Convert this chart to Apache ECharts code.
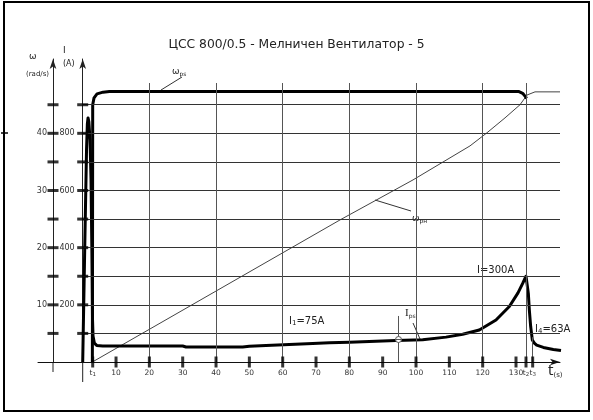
<!DOCTYPE html>
<html><head><meta charset="utf-8">
<script src="https://cdn.jsdelivr.net/npm/echarts@6/dist/echarts.min.js"></script>
<style>html,body{margin:0;padding:0;background:#fff}#c{width:593px;height:420px}</style>
</head><body><div id="c"></div>
<script>
const titleText = 'ЦСС 800/0.5 - Мелничен Вентилатор - 5';

// Current I (A) vs time t (s)
const iTime   = [0, 0.6, 1.15, 1.4, 1.6, 1.85, 2.2, 2.5, 2.75, 2.95, 3.1, 3.5, 4.2, 6, 30, 31, 48, 50, 55, 62, 69, 74, 80, 86, 94, 102, 109, 114, 119, 124, 128, 130.6, 132, 133, 133.7, 134, 134.4, 134.9, 135.5, 136.2, 138.2, 141.2, 143.5];
const iValues = [0, 392, 742, 833, 854, 840, 777, 637, 392, 147, 91, 66, 58, 56, 56, 52.5, 52.5, 55, 58, 61, 65, 67, 69, 72, 75, 78, 87, 97, 112, 147, 194, 242, 275, 300, 240, 182, 124, 77, 66, 59, 51, 44, 40];

// Angular speed ω_рs (rad/s)
const wrsTime   = [2.9, 2.95, 3.0, 3.4, 4.3, 6.1, 8, 130.9, 132, 132.7, 133.2];
const wrsValues = [0, 20, 45, 46.2, 46.9, 47.2, 47.3, 47.3, 47.0, 46.5, 46.1];

// Angular speed ω_рн (rad/s)
const wrnTime   = [2.9, 77.2, 99.1, 116.2, 121.3, 126.7, 131.2, 133.3, 135.7, 143.2];
const wrnValues = [0, 24.85, 31.85, 37.8, 40.1, 42.7, 45.0, 46.7, 47.25, 47.25];

// Axis ticks / labels
const xTickValues = [3, 10, 20, 30, 40, 50, 60, 70, 80, 90, 100, 110, 120, 130, 133, 135];
const xTickLabels = ['t1', '10', '20', '30', '40', '50', '60', '70', '80', '90', '100', '110', '120', '130', 't2', 't3'];
const iTickValues = [100, 200, 300, 400, 500, 600, 700, 800, 900];
const iLabelValues = [200, 400, 600, 800];
const wTickValues = [5, 10, 15, 20, 25, 30, 35, 40, 45];
const wLabelValues = [10, 20, 30, 40];
const vGridTimes = [20, 40, 60, 80, 100, 120, 133];
const hGridValues = [100, 200, 300, 400, 500, 600, 700, 800, 900];
const markerTimes = [94.6, 135];
const markerTops = [161, 87];

const XMIN = -13.41, XMAX = 143.2, IMAX = 1060, WMAX = 53;
const GRID_LEFT = 38, W_AXIS_SHIFT = 15;
const pxPerSec = 522 / (XMAX - XMIN);
const wAxisT = XMIN + W_AXIS_SHIFT / pxPerSec;
const iAxisShift = -XMIN * pxPerSec;
const gridTopI = 976, gridRightT = 143.2;

const FONT = 'DejaVu Sans';
const chart = echarts.init(document.getElementById('c'), null, {renderer: 'canvas'});

const hLines = hGridValues.map(v => [{coord: [0, v]}, {coord: [gridRightT, v]}]);
const vLines = vGridTimes.map(t => [{coord: [t, 0]}, {coord: [t, gridTopI]}]);
const mLines = markerTimes.map((t, k) => [{coord: [t, 0]}, {coord: [t, markerTops[k]]}]);

function sub(main, s) { return '{m|' + main + '}{s|' + s + '}'; }

chart.setOption({
  animation: false,
  backgroundColor: '#fff',
  grid: {left: GRID_LEFT, right: 593 - 560, top: 59, bottom: 420 - 362, containLabel: false},
  xAxis: {
    type: 'value', min: XMIN, max: XMAX,
    axisLine: {show: true, onZero: true, symbol: ['none', 'arrow'], symbolSize: [5, 10], lineStyle: {color: '#111', width: 1}},
    axisTick: {show: false}, splitLine: {show: false},
    axisLabel: {
      customValues: xTickValues, margin: 7, fontSize: 7.5, fontFamily: FONT, color: '#333',
      formatter: v => {
        const k = xTickValues.indexOf(v);
        const l = k >= 0 ? xTickLabels[k] : '';
        if (l[0] === 't') return '{m|t}{s|' + l.slice(1) + '}';
        return l;
      },
      rich: {m: {fontSize: 7.5, fontFamily: FONT, color: '#333'}, s: {fontSize: 5.5, fontFamily: FONT, color: '#333', verticalAlign: 'bottom', padding: [3, 0, 0, 0]}}
    }
  },
  yAxis: [{
    type: 'value', min: 0, max: IMAX, position: 'left', offset: -iAxisShift,
    axisLine: {show: true, onZero: false, symbol: ['none', 'arrow'], symbolSize: [5, 10], lineStyle: {color: '#222', width: 1}},
    axisTick: {show: false}, splitLine: {show: false},
    axisLabel: {customValues: iLabelValues, margin: 8, fontSize: 8, fontFamily: FONT, color: '#333'}
  }, {
    type: 'value', min: 0, max: WMAX, position: 'left', offset: -W_AXIS_SHIFT,
    axisLine: {show: true, onZero: false, symbol: ['none', 'arrow'], symbolSize: [5, 10], lineStyle: {color: '#222', width: 1}},
    axisTick: {show: false}, splitLine: {show: false},
    axisLabel: {customValues: wLabelValues, margin: 6, fontSize: 8, fontFamily: FONT, color: '#333'}
  }],
  series: [
    {
      type: 'line', name: 'grid', data: [[0, 0]], symbol: 'none', lineStyle: {opacity: 0}, z: 1, silent: true,
      markLine: {silent: true, symbol: ['none', 'none'], label: {show: false}, animation: false,
        lineStyle: {color: '#333', width: 1, type: 'solid'},
        data: hLines}
    },
    {
      type: 'line', name: 'vgrid', data: [[0, 0]], symbol: 'none', lineStyle: {opacity: 0}, z: 1, silent: true,
      markLine: {silent: true, symbol: ['none', 'none'], label: {show: false}, animation: false,
        lineStyle: {color: '#555', width: 1, type: 'solid'},
        data: vLines.concat(mLines)}
    },
    {
      type: 'line', name: 'ωрн', yAxisIndex: 1, z: 3, symbol: 'none', clip: false,
      lineStyle: {color: '#444', width: 1},
      data: wrnTime.map((t, k) => [t, wrnValues[k]])
    },
    {
      type: 'line', name: 'ωрs', yAxisIndex: 1, z: 4, symbol: 'none', clip: false,
      lineStyle: {color: '#000', width: 3, join: 'round'},
      data: wrsTime.map((t, k) => [t, wrsValues[k]])
    },
    {
      type: 'line', name: 'I', yAxisIndex: 0, z: 4, symbol: 'none', clip: false,
      lineStyle: {color: '#000', width: 3, join: 'round'},
      data: iTime.map((t, k) => [t, iValues[k]])
    },
    {
      type: 'scatter', yAxisIndex: 0, z: 5, symbol: 'rect', symbolSize: [3, 11], silent: true,
      itemStyle: {color: '#000'},
      data: xTickValues.map(t => [t, 0])
    },
    {
      type: 'scatter', yAxisIndex: 0, z: 5, symbol: 'rect', symbolSize: [11, 3], silent: true,
      itemStyle: {color: '#000'},
      data: iTickValues.map(v => [0, v])
    },
    {
      type: 'scatter', yAxisIndex: 1, z: 5, symbol: 'rect', symbolSize: [11, 3], silent: true,
      itemStyle: {color: '#000'},
      data: wTickValues.map(v => [wAxisT, v])
    }
  ],
  graphic: [
    {type: 'rect', shape: {x: 4, y: 2, width: 585, height: 409}, style: {fill: 'none', stroke: '#000', lineWidth: 2}, z: 0},
    {type: 'line', shape: {x1: 1, y1: 133, x2: 8, y2: 133}, style: {stroke: '#000', lineWidth: 1.5}},
    {type: 'line', shape: {x1: 53, y1: 362, x2: 53, y2: 372}, style: {stroke: '#222', lineWidth: 1}},
    {type: 'line', shape: {x1: 82.7, y1: 362, x2: 82.7, y2: 382}, style: {stroke: '#222', lineWidth: 1}},
    {type: 'text', left: 'center', top: 39, style: {text: titleText, font: '12.3px "DejaVu Sans"', fill: '#222'}},
    {type: 'text', x: 29, y: 52, style: {text: 'ω', font: '9px "DejaVu Sans"', fill: '#222'}},
    {type: 'text', x: 26, y: 71, style: {text: '(rad/s)', font: '7px "DejaVu Sans"', fill: '#222'}},
    {type: 'text', x: 63, y: 46, style: {text: 'I', font: '9px "DejaVu Sans"', fill: '#222'}},
    {type: 'text', x: 63, y: 60, style: {text: '(A)', font: '8px "DejaVu Sans"', fill: '#222'}},
    {type: 'text', x: 172, y: 67, style: {text: sub('ω', 'рs'), rich: {m: {fontSize: 9, fontFamily: FONT, fill: '#222'}, s: {fontSize: 6, fontFamily: FONT, fill: '#222', padding: [4, 0, 0, 0]}}}},
    {type: 'line', shape: {x1: 182, y1: 77, x2: 161, y2: 90}, style: {stroke: '#333', lineWidth: 1}},
    {type: 'text', x: 412, y: 214, style: {text: sub('ω', 'рн'), rich: {m: {fontSize: 9, fontFamily: FONT, fill: '#222'}, s: {fontSize: 6, fontFamily: FONT, fill: '#222', padding: [4, 0, 0, 0]}}}},
    {type: 'line', shape: {x1: 375, y1: 200, x2: 411, y2: 211}, style: {stroke: '#333', lineWidth: 1}},
    {type: 'text', x: 289, y: 316, style: {text: sub('I', '1') + '{m|=75A}', rich: {m: {fontSize: 10, fontFamily: FONT, fill: '#222'}, s: {fontSize: 7, fontFamily: FONT, fill: '#222', padding: [4, 0, 0, 0]}}}},
    {type: 'text', x: 405, y: 308, style: {text: sub('I', 'рs'), rich: {m: {fontSize: 11, fontFamily: 'Liberation Serif', fill: '#222'}, s: {fontSize: 6, fontFamily: FONT, fill: '#222', padding: [5, 0, 0, 0]}}}},
    {type: 'line', shape: {x1: 413, y1: 323, x2: 420, y2: 339}, style: {stroke: '#333', lineWidth: 1}},
    {type: 'text', x: 477, y: 265, style: {text: 'I=300A', font: '10px "DejaVu Sans"', fill: '#222'}},
    {type: 'text', x: 535, y: 324, style: {text: sub('I', '4') + '{m|=63A}', rich: {m: {fontSize: 10, fontFamily: FONT, fill: '#222'}, s: {fontSize: 7, fontFamily: FONT, fill: '#222', padding: [4, 0, 0, 0]}}}},
    {type: 'circle', shape: {cx: 398.5, cy: 339.5, r: 3}, style: {fill: '#fff', stroke: '#555', lineWidth: 1}, z: 10},
    {type: 'line', shape: {x1: 395.5, y1: 339.5, x2: 401.5, y2: 339.5}, style: {stroke: '#555', lineWidth: 1}, z: 11},
    {type: 'text', x: 548, y: 364, style: {text: sub('t', '(s)'), rich: {m: {fontSize: 14, fontFamily: FONT, fill: '#222'}, s: {fontSize: 7, fontFamily: FONT, fill: '#222', padding: [8, 0, 0, 0]}}}}
  ]
});
</script></body></html>
